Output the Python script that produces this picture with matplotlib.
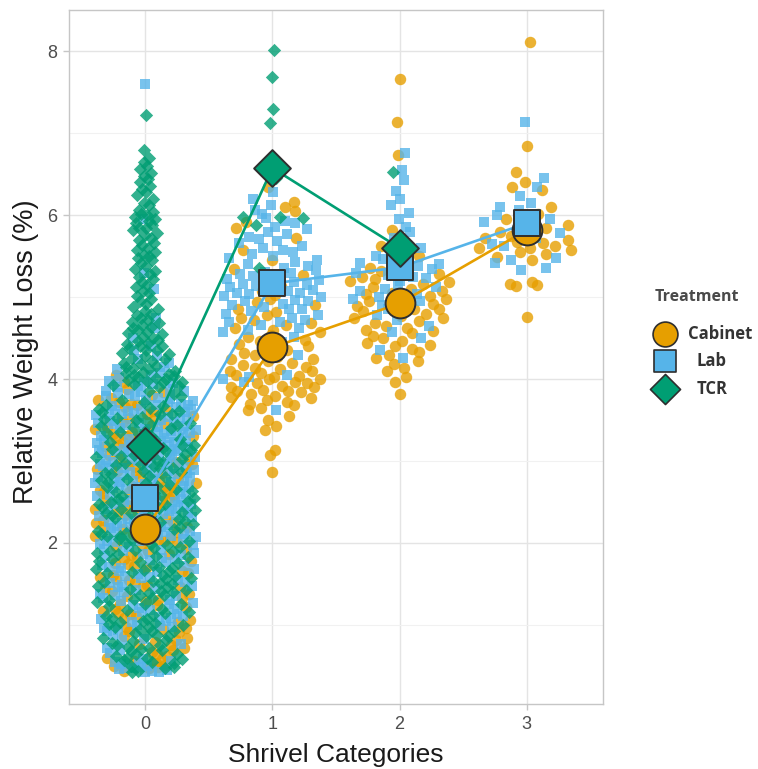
import numpy as np
import matplotlib
matplotlib.use("Agg")
import matplotlib.pyplot as plt

# ---------------------------------------------------------------------------
# Relative weight loss (%) per shrivel category and storage treatment
# ---------------------------------------------------------------------------
categories = [0, 1, 2, 3]
treatments = ["Cabinet", "Lab", "TCR"]

cabinet_0 = [0.44, 0.47, 0.49, 0.53, 0.56, 0.6, 0.64, 0.69, 0.72, 0.77,
             0.81, 0.84, 0.91, 0.93, 0.98, 1.04, 1.08, 1.11, 1.17, 1.2,
             1.24, 1.29, 1.33, 1.35, 1.41, 1.44, 1.49, 1.52, 1.56, 1.61,
             1.63, 1.69, 1.72, 1.76, 1.8, 1.85, 1.87, 1.93, 1.96, 2.01,
             2.04, 2.08, 2.13, 2.15, 2.2, 2.24, 2.26, 2.31, 2.36, 2.39,
             2.44, 2.46, 2.51, 2.55, 2.58, 2.63, 2.65, 2.7, 2.73, 2.79,
             2.81, 2.85, 2.9, 2.93, 2.97, 3.01, 3.06, 3.08, 3.13, 3.17,
             3.2, 3.25, 3.28, 3.33, 3.36, 3.41, 3.44, 3.48, 3.53, 3.57,
             3.61, 3.66, 3.7, 3.75, 3.81, 3.88, 3.96, 4.05, 1.9, 2.5,
             0.75, 1.15, 2.85, 3.3, 0.58, 1.55, 2.2, 2.95, 1.38, 3.52,
             0.51, 0.62, 0.79, 0.87, 0.96, 1.06, 1.13, 1.26, 1.31, 1.47,
             1.58, 1.66, 1.74, 1.83, 1.98, 2.06, 2.11, 2.17, 2.28, 2.34,
             2.41, 2.48, 2.53, 2.61, 2.68, 2.76, 2.88, 2.99, 3.04, 3.11,
             3.15, 3.23, 3.31, 3.39, 3.46, 3.55, 3.63, 3.68, 3.77, 3.84,
             0.5, 0.67, 1.22, 1.78, 2.02, 2.62, 3.18, 3.72, 0.95, 1.46]

lab_0 = [0.42, 0.43, 0.45, 0.46, 0.48, 0.5, 0.53, 0.56,
         0.44, 0.47, 0.49, 0.52, 0.55, 0.58,
         0.66, 0.72, 0.77, 0.83, 0.88, 0.94, 0.99, 1.05, 1.1, 1.16,
         1.21, 1.27, 1.33, 1.38, 1.44, 1.49, 1.55, 1.6, 1.66, 1.71,
         1.77, 1.82, 1.88, 1.93, 1.98,
         0.7, 0.81, 0.92, 1.07, 1.19, 1.3, 1.46, 1.58, 1.72, 1.85,
         0.96, 1.0, 1.03, 1.08, 1.13, 1.18, 1.24, 1.29, 1.35, 1.4,
         1.43, 1.47, 1.52, 1.57, 1.62, 1.68, 1.73, 1.79, 1.84, 1.9,
         1.95, 0.98, 1.11, 1.26, 1.36, 1.51, 1.64, 1.7, 1.8, 1.87,
         1.92, 1.99,
         2.01, 2.03, 2.06, 2.08, 2.11, 2.14, 2.16, 2.19, 2.22, 2.24,
         2.27, 2.29, 2.32, 2.35, 2.37, 2.4, 2.42, 2.45, 2.48, 2.5,
         2.53, 2.55, 2.58, 2.6, 2.63, 2.66, 2.68, 2.71, 2.73, 2.76,
         2.79, 2.81, 2.84, 2.86, 2.89, 2.92, 2.94, 2.97, 2.99, 3.02,
         3.05, 3.07, 3.1, 3.12, 3.15, 3.18, 3.2, 3.23, 3.25, 3.28,
         3.31, 3.33, 3.36, 3.38, 3.41, 3.44, 3.46, 3.49, 3.51, 3.54,
         3.57, 3.59, 3.62, 3.64, 3.67, 3.7, 3.72, 3.75, 3.77, 3.8,
         3.83, 3.86, 3.9, 3.94, 2.15, 2.47, 2.88, 3.35, 3.6, 2.7,
         3.05, 2.25, 3.47, 2.95, 3.15,
         2.05, 2.12, 2.2, 2.31, 2.42, 2.53, 2.6, 2.68, 2.76, 2.85,
         2.02, 2.07, 2.1, 2.13, 2.18, 2.21, 2.26, 2.28, 2.33, 2.36,
         2.39, 2.44, 2.46, 2.51, 2.54, 2.57, 2.62, 2.65, 2.67, 2.72,
         2.75, 2.78, 2.83, 2.87, 2.9, 2.93, 2.96, 3.01, 3.04, 3.08,
         3.11, 3.14, 3.17, 3.22, 3.24, 3.27, 3.3, 3.34, 3.37, 3.4,
         3.43, 3.48, 3.5, 3.53, 3.56, 3.61, 3.63, 3.66, 3.69, 3.73,
         3.76, 3.79, 3.82, 3.85, 3.88, 3.92, 3.95, 2.09, 2.34, 2.57,
         2.81, 3.0, 3.26, 3.45, 3.68, 2.2, 2.5, 2.74, 2.98, 3.19,
         3.39, 3.58, 3.84, 2.41, 2.91, 3.12,
         3.98, 4.05, 4.12, 4.2, 4.28, 4.36, 4.5, 4.75, 5.3, 5.95, 7.6,
         3.97, 4.01, 4.08, 4.15, 4.24, 4.4, 4.62, 5.1]

tcr_0 = [0.42, 0.47, 0.5, 0.55, 0.58, 0.62, 0.65, 0.7, 0.73, 0.76,
         0.8, 0.84, 0.87, 0.92, 0.95, 0.98, 1.01, 1.05, 1.09, 1.12,
         1.16, 1.18, 1.23, 1.26, 1.3, 1.33, 1.37, 1.4, 1.44, 1.47,
         1.51, 1.54, 1.57, 1.61, 1.64, 1.68, 1.71, 1.75, 1.77, 1.81,
         1.84, 1.88, 1.92, 1.95, 1.99, 2.02, 2.05, 2.09, 2.12, 2.17,
         2.2, 2.23, 2.27, 2.3, 2.34, 2.37, 2.41, 2.44, 2.48, 2.51,
         2.55, 2.57, 2.61, 2.64, 2.68, 2.71, 2.75, 2.78, 2.82, 2.85,
         2.88, 2.92, 2.96, 2.99, 3.03, 3.06, 3.09, 3.13, 3.16, 3.2,
         3.23, 3.27, 3.3, 3.34, 3.37, 3.41, 3.44, 3.47, 3.51, 3.54,
         3.58, 3.61, 3.65, 3.68, 3.72, 3.75, 3.79, 3.82, 3.86, 3.9,
         1.42, 0.88, 1.66, 2.38, 0.6, 1.02, 2.95, 3.2, 1.9, 0.72,
         0.44, 0.49, 0.53, 0.57, 0.6, 0.64, 0.68, 0.71, 0.75, 0.78,
         0.82, 0.86, 0.9, 0.93, 0.97, 1.0, 1.04, 1.07, 1.11, 1.15,
         1.2, 1.25, 1.28, 1.32, 1.36, 1.39, 1.43, 1.46, 1.5, 1.53,
         1.56, 1.6, 1.63, 1.67, 1.7, 1.73, 1.78, 1.83, 1.86, 1.9,
         1.94, 1.97, 2.0, 2.04, 2.08, 2.11, 2.15, 2.19, 2.22, 2.26,
         2.29, 2.33, 2.36, 2.4, 2.43, 2.47, 2.5, 2.54, 2.58, 2.62,
         2.66, 2.69, 2.73, 2.77, 2.8, 2.84, 2.87, 2.91, 2.94, 2.98,
         3.01, 3.05, 3.08, 3.12, 3.15, 3.19, 3.22, 3.26, 3.29, 3.33,
         3.36, 3.4, 3.43, 3.46, 3.5, 3.53, 3.57, 3.6, 3.64, 3.67,
         3.93, 3.96, 3.98, 4.0, 4.02, 4.05, 4.07, 4.1, 4.13, 4.16,
         4.19, 4.22, 4.25, 4.28,
         3.92, 3.94, 3.97, 3.99, 4.01, 4.04, 4.06, 4.09, 4.12, 4.15,
         4.2, 4.26,
         4.31, 4.35, 4.38, 4.41, 4.44, 4.48, 4.52, 4.55, 4.58, 4.62,
         4.66, 4.7, 4.74, 4.78, 4.83,
         4.32, 4.36, 4.4, 4.43, 4.47, 4.5, 4.56, 4.6, 4.64, 4.68,
         4.72, 4.8,
         4.88, 4.95, 5.02, 5.08, 5.15, 5.22, 5.28, 5.35, 5.42, 5.48,
         5.55, 5.6, 5.66, 5.72, 5.78, 5.84, 5.9, 5.95, 5.98, 6.02,
         6.06, 6.12, 6.2, 5.5, 5.85, 6.0,
         4.85, 4.92, 4.98, 5.05, 5.12, 5.18, 5.25, 5.32, 5.38, 5.45,
         5.52, 5.58, 5.64, 5.7, 5.76, 5.82, 5.88, 5.93, 6.04, 6.15,
         6.28, 6.36, 6.44, 6.52, 6.6, 6.7, 6.8,
         6.25, 6.32, 6.4, 6.48, 6.56, 6.65, 7.22]

cabinet_1 = [2.87, 3.08, 3.13, 3.38, 3.43, 3.55, 3.5,
             3.62, 3.65, 3.68, 3.7, 3.72, 3.75, 3.77, 3.8, 3.82, 3.84,
             3.87, 3.9, 3.92, 3.95, 3.97, 4.0, 4.02, 4.04, 4.07, 4.1,
             4.12, 4.14, 4.17, 4.2, 4.22, 4.25, 4.27, 4.3, 4.32, 4.35,
             4.38, 4.4, 4.43, 4.46, 4.48, 4.51, 4.54, 4.57, 4.6, 4.63,
             4.66, 4.69, 4.72, 4.75, 4.78, 4.82, 4.86, 4.9, 4.94, 4.98,
             5.03, 5.08, 5.14, 5.2, 5.27, 5.35, 5.45, 5.58, 5.72, 5.85,
             5.92, 6.05, 6.1, 6.16, 6.35,
             3.9, 4.05, 4.25, 3.95, 4.15, 3.78, 4.1, 3.85, 3.85, 4.0]

lab_1 = [3.62, 3.96, 4.0, 4.03, 4.05, 4.3, 4.45, 4.52, 4.58, 4.62,
         4.66, 4.7, 4.72, 4.75, 4.78, 4.8, 4.83, 4.85, 4.88, 4.9,
         4.92, 4.95, 4.97, 5.0, 5.02, 5.04, 5.07, 5.09, 5.12, 5.14,
         5.16, 5.19, 5.21, 5.24, 5.26, 5.28, 5.31, 5.33, 5.36, 5.38,
         5.4, 5.43, 5.45, 5.48, 5.5, 5.53, 5.55, 5.58, 5.6, 5.63,
         5.66, 5.68, 5.71, 5.74, 5.77, 5.8, 5.83, 5.86, 5.9, 5.93,
         5.97, 6.01, 6.06, 6.12, 6.2, 6.28,
         4.86, 5.05, 5.22, 5.05, 4.6, 4.7, 4.95, 5.15, 5.3]

tcr_1 = [8.02, 7.69, 7.3, 7.13, 6.45, 5.98, 5.88, 5.97, 5.98, 5.36]

cabinet_2 = [3.82, 3.97, 4.02,
             4.1, 4.13, 4.18, 4.22, 4.26, 4.3, 4.33, 4.37, 4.4, 4.44,
             4.47, 4.5, 4.53, 4.56, 4.59, 4.62, 4.65, 4.68, 4.71, 4.74,
             4.77, 4.8, 4.83, 4.86, 4.89, 4.92, 4.95, 4.98, 5.01, 5.04,
             5.07, 5.1, 5.13, 5.16, 5.19, 5.22, 5.25, 5.28, 5.32, 5.36,
             5.4, 5.45, 5.5,
             5.57, 5.63, 5.82, 6.74, 7.14, 7.66,
             4.6, 4.75, 4.9, 5.05, 5.2, 4.42, 4.85, 5.0]

lab_2 = [4.26, 4.35, 4.5, 4.58, 4.65, 4.72, 4.78, 4.85, 4.9, 4.95,
         5.0, 5.04, 5.08, 5.12, 5.16, 5.2, 5.23, 5.27, 5.3, 5.34,
         5.38, 5.42, 5.46, 5.5, 5.55, 5.6, 5.65, 5.72, 5.8, 5.86,
         5.95, 6.03, 6.12, 6.2, 6.29, 6.43, 6.55, 6.76, 5.1, 5.25,
         4.98, 5.4]

tcr_2 = [6.53, 5.31, 4.96]

cabinet_3 = [4.76, 5.14, 5.15, 5.16, 5.18, 5.45, 5.49, 5.53, 5.55, 5.57,
             5.6, 5.6, 5.63, 5.66, 5.67, 5.7, 5.72, 5.75, 5.8, 5.84,
             5.88, 5.94, 5.96, 6.02, 6.1, 6.31, 6.35, 6.41, 6.53, 6.84,
             8.12]

lab_3 = [5.33, 5.36, 5.42, 5.45, 5.48, 5.62, 5.65, 5.72, 5.78, 5.85,
         5.92, 5.96, 6.0, 6.06, 6.1, 6.15, 6.23, 6.35, 6.46, 7.14]

weight_loss = {
    "Cabinet": {0: cabinet_0, 1: cabinet_1, 2: cabinet_2, 3: cabinet_3},
    "Lab": {0: lab_0, 1: lab_1, 2: lab_2, 3: lab_3},
    "TCR": {0: tcr_0, 1: tcr_1, 2: tcr_2},
}

colors = {"Cabinet": "#E69F00", "Lab": "#56B4E9", "TCR": "#009E73"}
markers = {"Cabinet": "o", "Lab": "s", "TCR": "D"}
point_size = {"Cabinet": 68, "Lab": 56, "TCR": 46}
mean_size = {"Cabinet": 460, "Lab": 370, "TCR": 350}
legend_size = {"Cabinet": 320, "Lab": 250, "TCR": 235}


# ---------------------------------------------------------------------------
# Quasirandom (van der Corput) horizontal offsets, scaled by local density;
# the density is saturated so the widest stretch of a swarm keeps flat sides
# ---------------------------------------------------------------------------
def van_der_corput(n, base=2):
    seq = np.empty(n)
    for i in range(1, n + 1):
        q, denom, k = 0.0, 1.0, i
        while k:
            denom *= base
            k, r = divmod(k, base)
            q += r / denom
        seq[i - 1] = q
    return seq


def quasirandom_offsets(y, width=0.4, adjust=0.5, saturate=0.82):
    y = np.asarray(y, float)
    n = len(y)
    if n < 2:
        return np.zeros(n)
    sd = y.std(ddof=1)
    q75, q25 = np.percentile(y, [75, 25])
    lo = min(sd, (q75 - q25) / 1.34)
    if lo <= 0:
        lo = sd if sd > 0 else 1.0
    bw = 0.9 * lo * n ** -0.2 * adjust
    grid = np.linspace(y.min() - 3 * bw, y.max() + 3 * bw, 512)
    dens = np.exp(-0.5 * ((grid[:, None] - y[None, :]) / bw) ** 2).sum(axis=1)
    dens /= dens.max()
    local = np.minimum(np.interp(y, grid, dens) / saturate, 1.0)
    order = np.argsort(y, kind="stable")
    ranks = np.empty(n, int)
    ranks[order] = np.arange(n)
    return (van_der_corput(n)[ranks] * 2 - 1) * local * width


# ---------------------------------------------------------------------------
# Figure
# ---------------------------------------------------------------------------
W, H = 758, 769
fig = plt.figure(figsize=(W / 100, H / 100), dpi=100)
ax = fig.add_axes([69 / W, 1 - 704 / H, 534 / W, 694 / H])

# swarm positions computed jointly per category
positions = {t: {} for t in treatments}
for c in categories:
    vals, owners = [], []
    for t in treatments:
        if c in weight_loss[t]:
            vals.extend(weight_loss[t][c])
            owners.extend([t] * len(weight_loss[t][c]))
    offs = quasirandom_offsets(vals)
    owners = np.array(owners)
    for t in treatments:
        if c in weight_loss[t]:
            positions[t][c] = c + offs[owners == t]

for t in treatments:
    xs = np.concatenate([positions[t][c] for c in weight_loss[t]])
    ys = np.concatenate([weight_loss[t][c] for c in weight_loss[t]])
    ax.scatter(xs, ys, s=point_size[t], marker=markers[t], color=colors[t],
               alpha=0.8, linewidths=0, zorder=2)

for t in treatments:
    cats = sorted(weight_loss[t])
    means = [np.mean(weight_loss[t][c]) for c in cats]
    ax.plot(cats, means, color=colors[t], lw=1.9, zorder=3,
            solid_capstyle="round")
for i, t in enumerate(treatments):
    cats = sorted(weight_loss[t])
    means = [np.mean(weight_loss[t][c]) for c in cats]
    ax.scatter(cats, means, s=mean_size[t], marker=markers[t],
               facecolor=colors[t], edgecolor="#2E2E2E", linewidths=1.4,
               zorder=5 + i)

all_vals = np.concatenate([np.asarray(v) for t in treatments
                           for v in weight_loss[t].values()])
span = all_vals.max() - all_vals.min()
ax.set_ylim(all_vals.min() - 0.05 * span, all_vals.max() + 0.05 * span)
ax.set_xlim(-0.6, 3.6)

ax.set_xticks(categories)
ax.set_xticklabels([str(c) for c in categories])
ax.set_yticks([2, 4, 6, 8])
ax.set_yticks([1, 3, 5, 7], minor=True)

ax.set_axisbelow(True)
ax.grid(True, which="major", color="#E4E4E4", lw=1.0)
ax.grid(True, which="minor", axis="y", color="#F1F1F1", lw=0.8)
for s in ax.spines.values():
    s.set_color("#C6C6C6")
    s.set_linewidth(1.0)
ax.tick_params(which="major", length=4.5, width=1.0, color="#C6C6C6",
               labelcolor="#4D4D4D", labelsize=13, pad=4)
ax.tick_params(which="minor", length=0)
for lab in ax.get_xticklabels() + ax.get_yticklabels():
    lab.set_fontfamily("Liberation Sans")

ax.set_xlabel("Shrivel Categories", fontsize=19, family="Liberation Sans",
              color="#1A1A1A", labelpad=7)
ax.set_ylabel("Relative Weight Loss (%)", fontsize=19.5,
              family="Liberation Sans", color="#1A1A1A")
ax.yaxis.set_label_coords(-0.057, 0.507)

# legend, laid out in pixel units
leg = fig.add_axes([0, 0, 1, 1], zorder=10)
leg.set_xlim(0, W)
leg.set_ylim(H, 0)
leg.axis("off")
leg.text(655, 297, "Treatment", family="Open Sans", fontweight="bold",
         fontsize=11.5, color="#4A4A4A", va="center", ha="left")
key_y = {"Cabinet": 334, "Lab": 361, "TCR": 389}
label_x = {"Cabinet": 688, "Lab": 697, "TCR": 697}
for t in treatments:
    leg.scatter([665], [key_y[t]], s=legend_size[t], marker=markers[t],
                facecolor=colors[t], edgecolor="#2E2E2E", linewidths=1.2)
    leg.text(label_x[t], key_y[t], t, family="Open Sans", fontweight="bold",
             fontsize=12, color="#333333", va="center", ha="left")

fig.savefig("out.png", dpi=100)
